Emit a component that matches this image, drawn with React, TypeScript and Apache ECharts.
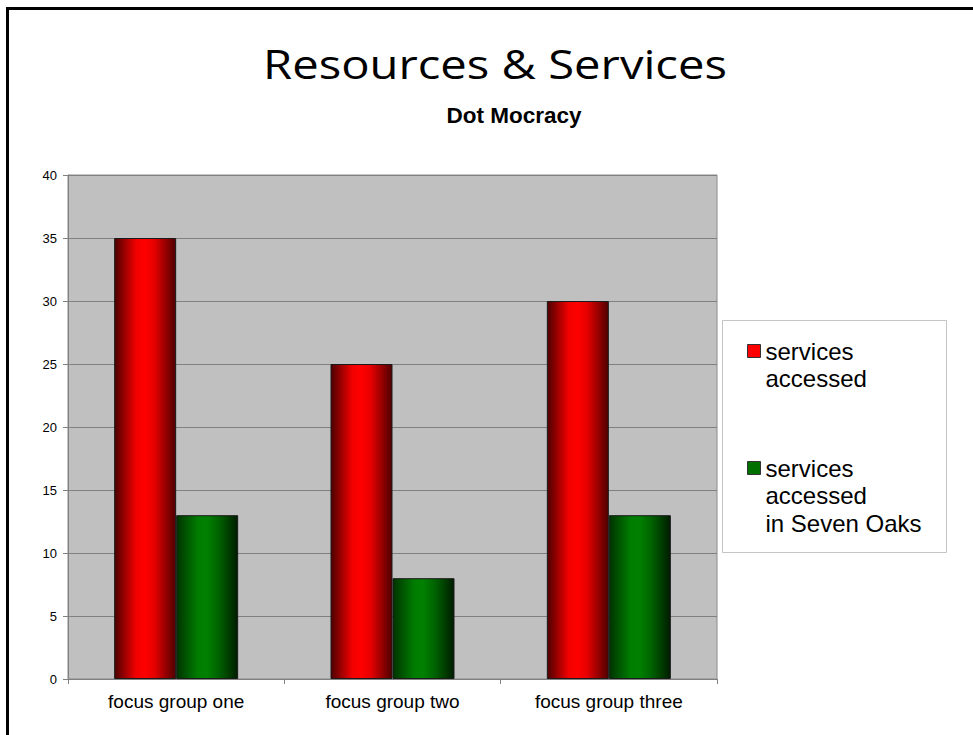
import React, { useEffect, useRef } from "react";
import * as echarts from "echarts";

const categories = ["focus group one", "focus group two", "focus group three"];
const seriesNames = ["services\naccessed", "services\naccessed\nin Seven Oaks"];
const servicesAccessed = [35, 25, 30];
const servicesSevenOaks = [13, 8, 13];
const yMin = 0;
const yMax = 40;
const yInterval = 5;
const titleText = "Resources & Services";
const subtitleText = "Dot Mocracy";

const redGradient = new echarts.graphic.LinearGradient(0, 0, 1, 0, [
  { offset: 0, color: "#4d0000" },
  { offset: 0.35, color: "#f20000" },
  { offset: 0.5, color: "#ff0000" },
  { offset: 0.65, color: "#e60000" },
  { offset: 1, color: "#500000" },
]);
const greenGradient = new echarts.graphic.LinearGradient(0, 0, 1, 0, [
  { offset: 0, color: "#003300" },
  { offset: 0.35, color: "#007d00" },
  { offset: 0.5, color: "#008000" },
  { offset: 0.7, color: "#006000" },
  { offset: 1, color: "#001c00" },
]);

const LH = 27.5;
const FONT = "'Liberation Sans', Arial, sans-serif";

export default function App() {
  const ref = useRef<HTMLDivElement>(null);
  useEffect(() => {
    if (!ref.current) return;
    const chart = echarts.init(ref.current, null, { renderer: "svg" });
    const legendTextStyle = {
      fontSize: 24,
      fontFamily: FONT,
      color: "#000",
      lineHeight: LH,
    };
    // prepend blank lines so that the first text line sits beside the marker
    const padTop = (name: string) => {
      const n = name.split("\n").length;
      return " \n".repeat(n - 1) + name;
    };
    chart.setOption({
      animation: false,
      backgroundColor: "#ffffff",
      graphic: [
        {
          type: "rect",
          shape: { x: 7.5, y: 8.5, width: 1200, height: 1200 },
          style: { fill: "none", stroke: "#000", lineWidth: 3 },
          silent: true,
        },
        {
          type: "rect",
          shape: { x: 722.5, y: 320.5, width: 224, height: 232 },
          style: { fill: "none", stroke: "#c4c4c4", lineWidth: 1 },
          silent: true,
        },
        {
          type: "text",
          x: 495,
          y: 63,
          scaleX: 1.18,
          style: {
            text: titleText,
            fontSize: 40,
            fontFamily: "'Open Sans', 'Noto Sans', sans-serif",
            fill: "#000",
            align: "center",
            verticalAlign: "middle",
          },
        },
        {
          type: "text",
          x: 514,
          y: 115,
          style: {
            text: subtitleText,
            fontSize: 22.5,
            fontWeight: "bold",
            fontFamily: FONT,
            fill: "#000",
            align: "center",
            verticalAlign: "middle",
          },
        },
      ],
      legend: [
        {
          left: 747,
          top: 351 - (3 * LH) / 2,
          padding: 0,
          itemWidth: 13,
          itemHeight: 13,
          icon: "rect",
          selectedMode: false,
          formatter: padTop,
          textStyle: legendTextStyle,
          data: [
            {
              name: seriesNames[0],
              itemStyle: { color: "#ff0000", borderColor: "#333", borderWidth: 1 },
            },
          ],
        },
        {
          left: 747,
          top: 468 - (5 * LH) / 2,
          padding: 0,
          itemWidth: 13,
          itemHeight: 13,
          icon: "rect",
          selectedMode: false,
          formatter: padTop,
          textStyle: legendTextStyle,
          data: [
            {
              name: seriesNames[1],
              itemStyle: { color: "#007000", borderColor: "#333", borderWidth: 1 },
            },
          ],
        },
      ],
      grid: {
        left: 68,
        right: 973 - 717,
        top: 175,
        bottom: 735 - 679,
        show: true,
        backgroundColor: "#c0c0c0",
        borderColor: "#8a8a8a",
        borderWidth: 1,
      },
      xAxis: {
        type: "category",
        data: categories,
        boundaryGap: true,
        axisLine: { show: true, lineStyle: { color: "#808080", width: 1 } },
        axisTick: { show: true, length: 5, lineStyle: { color: "#808080" } },
        axisLabel: { color: "#000", fontSize: 19, fontFamily: FONT, margin: 13 },
      },
      yAxis: {
        type: "value",
        min: yMin,
        max: yMax,
        interval: yInterval,
        axisLine: { show: true, lineStyle: { color: "#808080", width: 1 } },
        axisTick: { show: true, length: 5, lineStyle: { color: "#808080" } },
        axisLabel: { color: "#000", fontSize: 13, fontFamily: FONT, margin: 11 },
        splitLine: { show: true, lineStyle: { color: "#808080", width: 1 } },
      },
      series: [
        {
          name: seriesNames[0],
          type: "bar",
          data: servicesAccessed,
          barWidth: 62,
          barGap: "0%",
          itemStyle: { color: redGradient, borderColor: "#1a1a1a", borderWidth: 1 },
        },
        {
          name: seriesNames[1],
          type: "bar",
          data: servicesSevenOaks,
          barWidth: 62,
          barGap: "0%",
          itemStyle: { color: greenGradient, borderColor: "#1a1a1a", borderWidth: 1 },
        },
      ],
    });
    return () => chart.dispose();
  }, []);
  return (
    <div
      ref={ref}
      style={{ position: "fixed", left: 0, top: 0, width: 973, height: 735, background: "#fff" }}
    />
  );
}
